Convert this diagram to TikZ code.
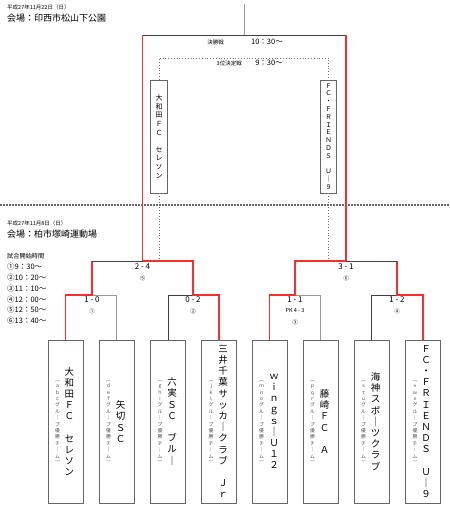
\documentclass[tikz,border=0pt]{standalone}
\usepackage{fontspec}
\setmainfont{Noto Sans CJK JP}
\usetikzlibrary{positioning}
\definecolor{winred}{RGB}{250,45,45}
% 縦書き: 1文字ずつ積む
\newcommand\tate[1]{\vbox{\tatenext#1\relax}}
\newcommand\tatenext[1]{\ifx\relax#1\else\hbox to 1.2em{\hss#1\hss}\expandafter\tatenext\fi}
\tikzset{
  win/.style={draw=winred, line width=1.3pt},
  lose/.style={draw=black!40, line width=0.8pt},
  dark/.style={draw=black!75, line width=0.8pt},
  third/.style={draw=black!55, dotted, line width=0.8pt},
  teambox/.style={draw=black!60, line width=0.7pt, minimum width=35pt, minimum height=163pt, inner sep=0pt},
  smallbox/.style={draw=black!60, line width=0.7pt, minimum width=16.5pt, minimum height=113pt, inner sep=0pt},
  teamname/.style={font=\fontsize{9.5}{11.2}\selectfont, inner sep=0pt},
  smallname/.style={font=\fontsize{7}{8.6}\selectfont, inner sep=0pt},
  groupname/.style={font=\fontsize{4.8}{6.4}\selectfont, text=black!70, inner sep=0pt},
  score/.style={font=\fontsize{8}{9}\selectfont, inner sep=0pt},
  matchno/.style={font=\fontsize{5.5}{6}\selectfont, inner sep=0pt},
  info/.style={anchor=west, inner sep=0pt},
  sep/.style={draw=black!60, dashed, dash pattern=on 2pt off 1pt, line width=1.3pt}
}

\begin{document}
\begin{tikzpicture}[x=1pt, y=-1pt]
\useasboundingbox (0,0) rectangle (450,515);

% 上段の見出し
\node[info, font=\fontsize{5.5}{6}\selectfont] (day1) at (7,7) {平成27年11月22日（日）};
\node[info, font=\fontsize{9}{10}\selectfont] (place1) at (7,18) {会場：印西市松山下公園};

% 決勝・3位決定戦
\coordinate (top) at (244,4);
\coordinate (f) at (244,35);
\coordinate (q) at (244,58);
\node[anchor=east, font=\fontsize{5.5}{6}\selectfont, inner sep=0pt] (fl) at (224,42) {決勝戦};
\node[anchor=east, font=\fontsize{7.5}{8}\selectfont, inner sep=0pt] (ft) at (283,42) {10：30～};
\node[anchor=east, font=\fontsize{5.5}{6}\selectfont, inner sep=0pt] (tl) at (242,63) {3位決定戦};
\node[anchor=east, font=\fontsize{7.5}{8}\selectfont, inner sep=0pt] (tt) at (283,63) {9：30～};

\node[smallbox] (p1) at (159,136.5) {};
\node[smallbox] (p2) at (328.5,136.5) {};
\node[smallname] (pn1) at (159,136.5) {\tate{大和田ＦＣ　セレソン}};
\node[smallname, font=\fontsize{6.5}{7.8}\selectfont] (pn2) at (328.5,136.5) {\tate{ＦＣ・ＦＲＩＥＮＤＳ　Ｕ｜９}};

% 区切り線
\draw[sep] (0,205) -- (450,205);

% 下段の見出し
\node[info, font=\fontsize{5.5}{6}\selectfont] (day2) at (7,223) {平成27年11月8日（日）};
\node[info, font=\fontsize{9}{10}\selectfont] (place2) at (7,234) {会場：柏市塚崎運動場};
\node[info, font=\fontsize{6.2}{7}\selectfont] (kick) at (7,256) {試合開始時間};
\foreach \t [count=\i] in {①9：30～,②10：20～,③11：10～,④12：00～,⑤12：50～,⑥13：40～}
  \node[info, font=\fontsize{7.5}{8}\selectfont] (k\i) at (7,256+10.8*\i) {\t};

% チーム
\foreach \x [count=\i] in {65.5,116.5,168,219,269.5,320.5,371.5,423}
  \node[teambox] (t\i) at (\x,421.5) {};

\node[teamname] (n1) at (69.5,421.5) {\tate{大和田ＦＣ　セレソン}};
\node[teamname] (n2) at (120.5,421.5) {\tate{矢切ＳＣ}};
\node[teamname] (n3) at (172,421.5) {\tate{六実ＳＣ　ブル｜}};
\node[teamname] (n4) at (223,421.5) {\tate{三井千葉サッカ｜クラブ　Ｊｒ}};
\node[teamname] (n5) at (274,421.5) {\tate{ｗｉｎｇｓ｜Ｕ１２}};
\node[teamname] (n6) at (324.5,421.5) {\tate{藤崎ＦＣ　Ａ}};
\node[teamname] (n7) at (375.5,421.5) {\tate{海神スポ｜ツクラブ}};
\node[teamname] (n8) at (426,421.5) {\tate{ＦＣ・ＦＲＩＥＮＤＳ　Ｕ｜９}};

\node[groupname] (g1) at (57.5,422.5) {\tate{︵ａｂｃグル｜プ優勝チ｜ム︶}};
\node[groupname] (g2) at (108.5,422.5) {\tate{︵ｄｅｆグル｜プ優勝チ｜ム︶}};
\node[groupname] (g3) at (160,422.5) {\tate{︵ｇｈｉグル｜プ優勝チ｜ム︶}};
\node[groupname] (g4) at (211,422.5) {\tate{︵ｊｋｌグル｜プ優勝チ｜ム︶}};
\node[groupname] (g5) at (261.5,422.5) {\tate{︵ｍｎｏグル｜プ優勝チ｜ム︶}};
\node[groupname] (g6) at (312.5,422.5) {\tate{︵ｐｑｒグル｜プ優勝チ｜ム︶}};
\node[groupname] (g7) at (363.5,422.5) {\tate{︵ｓｔｕグル｜プ優勝チ｜ム︶}};
\node[groupname] (g8) at (415,422.5) {\tate{︵ｖｗｘグル｜プ優勝チ｜ム︶}};

% 組み合わせの分岐点
\coordinate (m1) at (92,295);
\coordinate (m2) at (193,295);
\coordinate (m3) at (295,295);
\coordinate (m4) at (397,295);
\coordinate (s1) at (142.5,261);
\coordinate (s2) at (346,261);

% 1回戦
\draw[lose] (t2.north) |- (m1);
\draw[dark] (t3.north) |- (m2);
\draw[lose] (t6.north) |- (m3);
\draw[dark] (t7.north) |- (m4);
\draw[win] (t1.north) |- (m1) -- (m1 |- s1);
\draw[win] (t4.north) |- (m2) -- (m2 |- s1) -- (s1);
\draw[win] (t5.north) |- (m3) -- (m3 |- s2) -- (s2);
\draw[win] (t8.north) |- (m4) -- (m4 |- s2);

% 準決勝
\draw[dark] (m1 |- s1) -- (s1);
\draw[dark] (m4 |- s2) -- (s2);
\draw[third] (p1.south) -- (p1.south |- s1);
\draw[third] (p2.south) -- (p2.south |- s2);
\draw[third] (p1.north) |- (q) -| (p2.north);
\draw[dark] (s1 |- f) -- (s2 |- f);
\draw[lose] (f) -- (top);
\draw[win] (s1) -- (s1 |- f);
\draw[win] (s2) -- (s2 |- f);

% スコア
\node[score] (r1) at (92,300) {1 - 0};
\node[matchno] (c1) at (92,311.5) {①};
\node[score] (r2) at (193,300) {0 - 2};
\node[matchno] (c2) at (193,311.5) {②};
\node[score] (r3) at (295,300) {1 - 1};
\node[matchno] (pk) at (295,311) {PK 4 - 3};
\node[matchno] (c3) at (295,322) {③};
\node[score] (r4) at (397,300) {1 - 2};
\node[matchno] (c4) at (397,311.5) {④};
\node[score] (r5) at (142.5,267) {2 - 4};
\node[matchno] (c5) at (142.5,278) {⑤};
\node[score] (r6) at (346,267) {3 - 1};
\node[matchno] (c6) at (346,278) {⑥};

\end{tikzpicture}
\end{document}
